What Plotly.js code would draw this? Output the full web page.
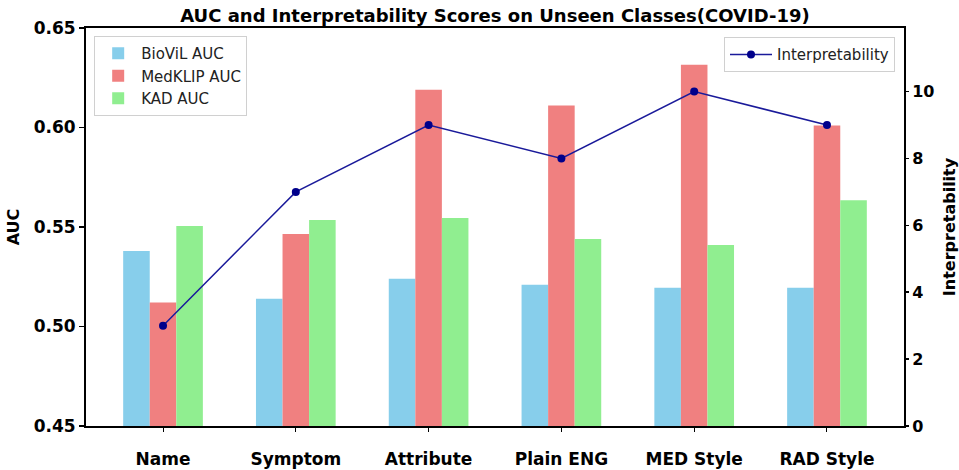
<!DOCTYPE html>
<html>
<head>
<meta charset="utf-8">
<script src="https://cdn.plot.ly/plotly-3.0.1.min.js"></script>
<style>html,body{margin:0;padding:0;background:#fff;}#chart{width:959px;height:470px;}</style>
</head>
<body>
<div id="chart"></div>
<script>
const categories = ["Name", "Symptom", "Attribute", "Plain ENG", "MED Style", "RAD Style"];
const biovilAUC = [0.538, 0.514, 0.524, 0.521, 0.5195, 0.5195];
const medklipAUC = [0.512, 0.5465, 0.619, 0.611, 0.6315, 0.601];
const kadAUC = [0.5505, 0.5535, 0.5545, 0.544, 0.541, 0.5635];
const interpretability = [3, 7, 9, 8, 10, 9];

const idx = categories.map((c, i) => i);
const bold = {family: "DejaVu Sans", weight: "bold", color: "#000"};

const traces = [
  {type: "bar", name: "BioViL AUC", x: idx, y: biovilAUC, marker: {color: "#87CEEB"}, legend: "legend"},
  {type: "bar", name: "MedKLIP AUC", x: idx, y: medklipAUC, marker: {color: "#F08080"}, legend: "legend"},
  {type: "bar", name: "KAD AUC", x: idx, y: kadAUC, marker: {color: "#90EE90"}, legend: "legend"},
  {type: "scatter", mode: "lines+markers", name: "Interpretability", x: idx, y: interpretability, yaxis: "y2",
   line: {color: "#1a1a9a", width: 1.5}, marker: {color: "#00008B", size: 8}, legend: "legend2"}
];

const layout = {
  width: 959, height: 470,
  margin: {l: 86, r: 55, t: 28, b: 44},
  paper_bgcolor: "#fff", plot_bgcolor: "#fff",
  barmode: "group", bargap: 0.4, bargroupgap: 0,
  title: {text: "AUC and Interpretability Scores on Unseen Classes(COVID-19)", font: Object.assign({size: 18}, bold),
          x: 0.5161, xanchor: "center", y: 0.966, yanchor: "middle"},
  xaxis: {range: [-0.58, 5.58], tickvals: idx, ticktext: categories, showgrid: false, zeroline: false,
          showline: true, linecolor: "#000", linewidth: 2, mirror: true,
          ticks: "outside", ticklen: 4, tickwidth: 1, tickcolor: "#000", ticklabelstandoff: 13,
          tickfont: Object.assign({size: 17}, bold)},
  yaxis: {range: [0.45, 0.65], tickvals: [0.45, 0.50, 0.55, 0.60, 0.65], ticktext: ["0.45", "0.50", "0.55", "0.60", "0.65"],
          showgrid: false, zeroline: false, showline: true, linecolor: "#000", linewidth: 2,
          ticks: "outside", ticklen: 5, tickwidth: 1.5, tickcolor: "#000",
          tickfont: Object.assign({size: 17}, bold),
          title: {text: "AUC", font: Object.assign({size: 16}, bold), standoff: 10}},
  yaxis2: {overlaying: "y", side: "right", range: [0, 11.9], tickvals: [0, 2, 4, 6, 8, 10],
           showgrid: false, zeroline: false, showline: true, linecolor: "#000", linewidth: 2,
           ticks: "outside", ticklen: 3, tickwidth: 1.5, tickcolor: "#000",
           tickfont: Object.assign({size: 16}, bold),
           title: {text: "Interpretability", font: Object.assign({size: 16}, bold), standoff: 10}},
  legend: {x: 0.01, y: 0.98, xanchor: "left", yanchor: "top", bgcolor: "rgba(255,255,255,0.8)",
           bordercolor: "#d0d0d0", borderwidth: 1, font: {family: "DejaVu Sans", size: 15, color: "#222"},
           traceorder: "normal", itemwidth: 36},
  legend2: {x: 0.989, y: 0.977, xanchor: "right", yanchor: "top", bgcolor: "rgba(255,255,255,0.8)",
            bordercolor: "#d0d0d0", borderwidth: 1, font: {family: "DejaVu Sans", size: 15, color: "#222"},
            itemwidth: 42},
  showlegend: true
};

Plotly.newPlot("chart", traces, layout, {displayModeBar: false, staticPlot: true});
</script>
</body>
</html>
